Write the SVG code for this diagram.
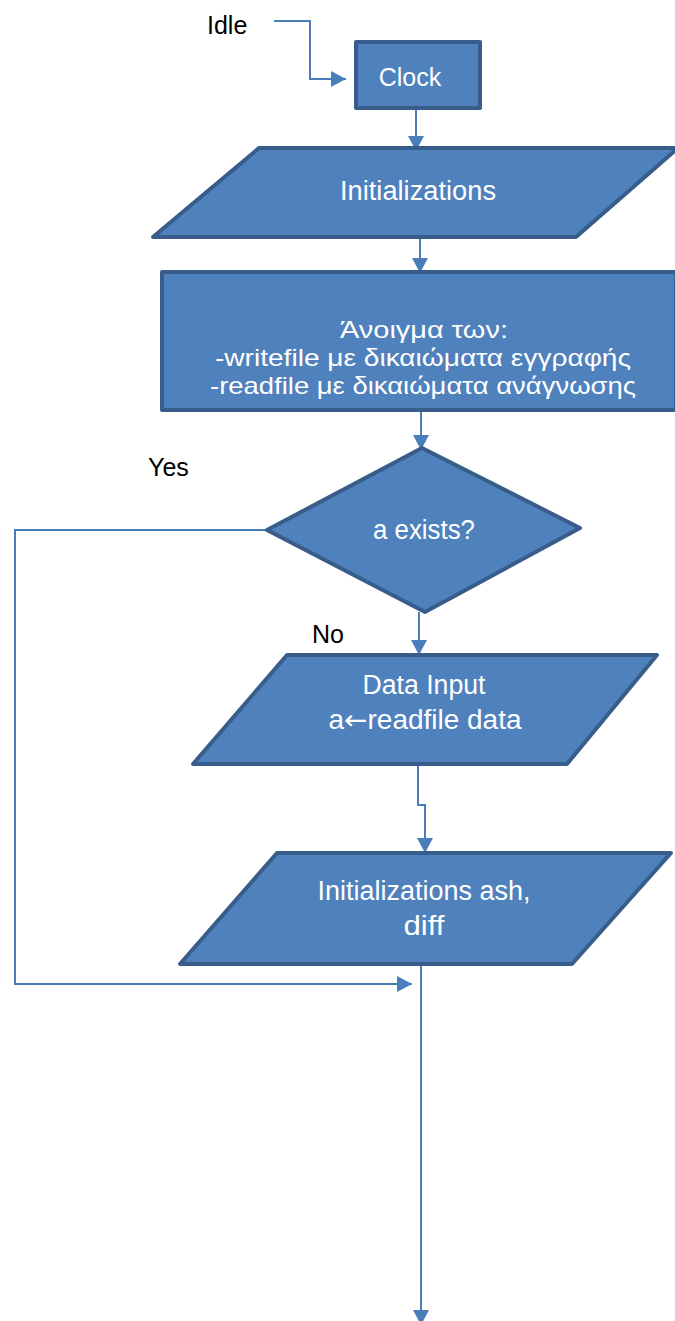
<svg xmlns="http://www.w3.org/2000/svg" width="675" height="1321" viewBox="0 0 675 1321">
<style>
.node{fill:#4F81BD;stroke:#385D8A;stroke-width:4;stroke-linejoin:round}
.nt{font-family:"Liberation Sans",Arial,sans-serif;font-size:27px;fill:#FFFFFF;text-anchor:middle}
.nt2{font-family:"Liberation Sans",Arial,sans-serif;font-size:24px;fill:#FFFFFF;text-anchor:middle}
.lbl{font-family:"Liberation Sans",Arial,sans-serif;font-size:25px;fill:#000000}
.conn{fill:none;stroke:#4A7EBB;stroke-width:2}
</style>
<defs>
<marker id="ah" markerUnits="userSpaceOnUse" markerWidth="16" markerHeight="16" viewBox="0 0 16 16" refX="15" refY="8" orient="auto">
<path d="M0,0 L15,8 L0,16 Z" fill="#4A7EBB"/>
</marker>
</defs>
<rect width="675" height="1321" fill="#FFFFFF"/>
<g id="connectors">
<path class="conn" d="M274,21 H310 V79 H346" marker-end="url(#ah)"/>
<path class="conn" d="M416,110 V151" marker-end="url(#ah)"/>
<path class="conn" d="M420,230 V273" marker-end="url(#ah)"/>
<path class="conn" d="M421,392 V450" marker-end="url(#ah)"/>
<path class="conn" d="M267,530 H15 V984 H412" marker-end="url(#ah)"/>
<path class="conn" d="M419,612 V655" marker-end="url(#ah)"/>
<path class="conn" d="M418,765 V805 H425 V853" marker-end="url(#ah)"/>
<path class="conn" d="M421,965 V1325" marker-end="url(#ah)"/>
</g>
<g id="idle"><text class="lbl" x="207" y="34">Idle</text></g>
<g id="clock">
<rect class="node" x="356" y="42" width="124" height="66"/>
<text class="nt" x="410" y="86" style="font-size:25px">Clock</text>
</g>
<g id="init">
<polygon class="node" points="259,148 678,148 576,237 153,237"/>
<text class="nt" x="418" y="200" textLength="156" lengthAdjust="spacingAndGlyphs">Initializations</text>
</g>
<g id="open">
<rect class="node" x="162" y="272" width="514" height="138"/>
<text class="nt2" x="424" y="338" textLength="168" lengthAdjust="spacingAndGlyphs">Άνοιγμα των:</text>
<text class="nt2" x="423" y="366" textLength="416" lengthAdjust="spacingAndGlyphs">-writefile με δικαιώματα εγγραφής</text>
<text class="nt2" x="423" y="394" textLength="426" lengthAdjust="spacingAndGlyphs">-readfile με δικαιώματα ανάγνωσης</text>
</g>
<g id="yes"><text class="lbl" x="148" y="476">Yes</text></g>
<g id="decision">
<polygon class="node" points="422,448 580,528 425,612 267,530"/>
<text class="nt" x="424" y="539" textLength="102" lengthAdjust="spacingAndGlyphs">a exists?</text>
</g>
<g id="no"><text class="lbl" x="312" y="643">No</text></g>
<g id="datainput">
<polygon class="node" points="287,655 657,655 567,764 193,764"/>
<text class="nt" x="424" y="694" textLength="123" lengthAdjust="spacingAndGlyphs">Data Input</text>
<text class="nt" x="425" y="729" textLength="193" lengthAdjust="spacingAndGlyphs">a<tspan style="font-family:'DejaVu Sans',sans-serif">←</tspan>readfile data</text>
</g>
<g id="initash">
<polygon class="node" points="277,853 671,853 572,964 180,964"/>
<text class="nt" x="424" y="900" textLength="213" lengthAdjust="spacingAndGlyphs">Initializations ash,</text>
<text class="nt" x="424" y="935" textLength="41" lengthAdjust="spacingAndGlyphs">diff</text>
</g>
</svg>
